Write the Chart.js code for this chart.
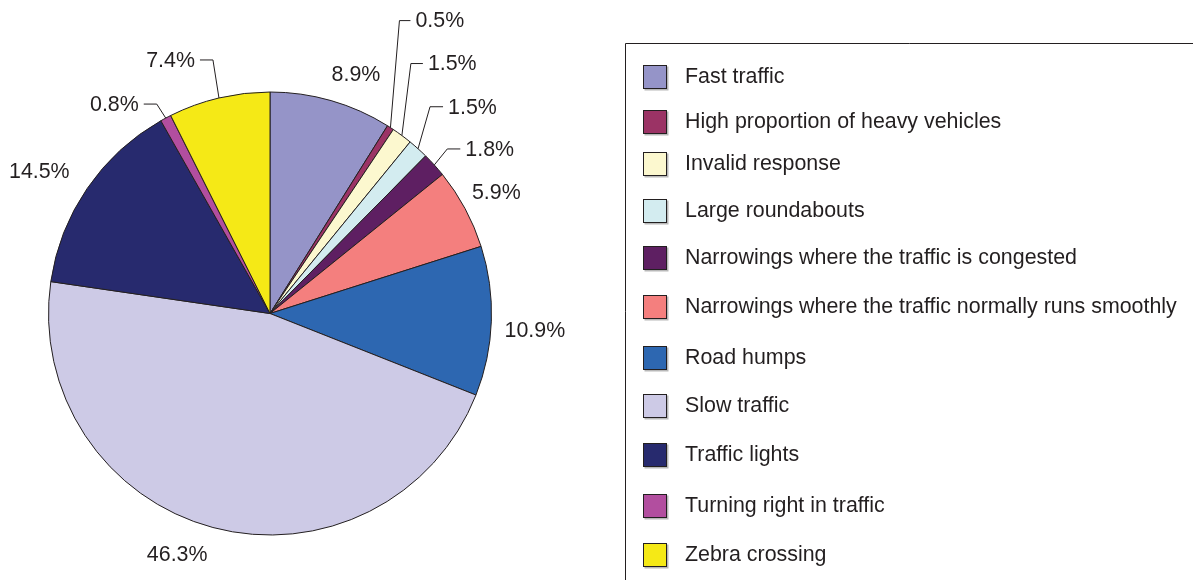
<!DOCTYPE html>
<html>
<head>
<meta charset="utf-8">
<script src="https://cdn.jsdelivr.net/npm/chart.js@4.4.1/dist/chart.umd.min.js"></script>
<style>
  html, body { margin: 0; padding: 0; background: #ffffff; }
  #wrap { position: relative; width: 1193px; height: 580px; overflow: hidden; }
</style>
</head>
<body>
<div id="wrap"><canvas id="c" width="1193" height="580"></canvas></div>
<script>
// ---- data ----
const categories = [
  "Fast traffic",
  "High proportion of heavy vehicles",
  "Invalid response",
  "Large roundabouts",
  "Narrowings where the traffic is congested",
  "Narrowings where the traffic normally runs smoothly",
  "Road humps",
  "Slow traffic",
  "Traffic lights",
  "Turning right in traffic",
  "Zebra crossing"
];
const shares = [8.9, 0.5, 1.5, 1.5, 1.8, 5.9, 10.9, 46.3, 14.5, 0.8, 7.4];
const colors = [
  "#9594c8", "#9b3365", "#fcf8cf", "#d3ecf0", "#5e1f62", "#f47f7e",
  "#2d67b1", "#cdcae6", "#272a6e", "#b24e9f", "#f5e916"
];

// ---- label placement (styling, not data) ----
// plain: shift of angle (deg) and distance beyond the rim
// leader: elbow offset from the rim point, then horizontal tail
const labelPlacement = [
  { da: 3.8, dr: 32 },
  { leader: [9, -107, 11] },
  { leader: [9, -72, 12] },
  { leader: [12, -42, 13] },
  { leader: [13, -16, 13] },
  { da: 0.2, dr: 35 },
  { da: 1.9, dr: 44 },
  { da: 6.1, dr: 37 },
  { da: -2.9, dr: 49 },
  { leader: [-9, -14, -13] },
  { leader: [-6, -38, -13] }
];
const legendRowsY = [76, 121.5, 163, 210.5, 257.5, 306.5, 357.5, 405.5, 454.5, 505.5, 554];

const FONT = '21.4px "Liberation Sans", Arial, Helvetica, sans-serif';
const TEXT = '#231f20';

const labelPlugin = {
  id: 'pctLabels',
  afterDatasetsDraw(chart) {
    const ctx = chart.ctx;
    const meta = chart.getDatasetMeta(0);
    ctx.save();
    ctx.font = FONT;
    ctx.fillStyle = TEXT;
    ctx.strokeStyle = '#231f20';
    ctx.lineWidth = 1;
    meta.data.forEach((arc, i) => {
      const p = arc.getProps(['x', 'y', 'startAngle', 'endAngle', 'outerRadius'], true);
      const mid = (p.startAngle + p.endAngle) / 2;
      const txt = shares[i].toFixed(1) + '%';
      const pl = labelPlacement[i];
      if (pl.leader) {
        const [ex, ey, hx] = pl.leader;
        const sx = p.x + p.outerRadius * Math.cos(mid);
        const sy = p.y + p.outerRadius * Math.sin(mid);
        const bx = sx + ex, by = sy + ey;
        const tx = bx + hx;
        ctx.beginPath();
        ctx.moveTo(sx, sy);
        ctx.lineTo(bx, by);
        ctx.lineTo(tx, by);
        ctx.stroke();
        ctx.textBaseline = 'middle';
        ctx.textAlign = hx > 0 ? 'left' : 'right';
        ctx.fillText(txt, tx + (hx > 0 ? 5 : -5), by + 1);
      } else {
        const a = mid + pl.da * Math.PI / 180;
        const r = p.outerRadius + pl.dr;
        ctx.textBaseline = 'middle';
        ctx.textAlign = 'center';
        ctx.fillText(txt, p.x + r * Math.cos(a), p.y + r * Math.sin(a));
      }
    });
    ctx.restore();
  }
};

const legendPlugin = {
  id: 'boxLegend',
  afterDraw(chart) {
    const ctx = chart.ctx;
    ctx.save();
    // frame
    ctx.strokeStyle = '#231f20';
    ctx.lineWidth = 1;
    ctx.beginPath();
    ctx.moveTo(625.5, 580);
    ctx.lineTo(625.5, 43.5);
    ctx.lineTo(1193, 43.5);
    ctx.stroke();
    ctx.font = FONT;
    ctx.textAlign = 'left';
    ctx.textBaseline = 'middle';
    const bg = chart.data.datasets[0].backgroundColor;
    chart.data.labels.forEach((lab, i) => {
      const cy = legendRowsY[i];
      const x0 = 643.5, y0 = Math.round(cy - 11.5) + 0.5, s = 23;
      ctx.fillStyle = '#b8b8b8';
      ctx.fillRect(x0 + 1, y0 + 1, s + 1, s + 1);
      ctx.fillStyle = bg[i];
      ctx.fillRect(x0, y0, s, s);
      ctx.strokeStyle = '#231f20';
      ctx.strokeRect(x0, y0, s, s);
      ctx.fillStyle = TEXT;
      ctx.fillText(lab, 685, cy + 1);
    });
    ctx.restore();
  }
};

new Chart(document.getElementById('c'), {
  type: 'pie',
  data: {
    labels: categories,
    datasets: [{
      data: shares,
      backgroundColor: colors,
      borderColor: '#231f20',
      borderWidth: 1,
      hoverOffset: 0
    }]
  },
  options: {
    responsive: false,
    animation: false,
    devicePixelRatio: 1,
    events: [],
    layout: { padding: { left: 48, top: 91, right: 701, bottom: 44 } },
    plugins: {
      legend: { display: false },
      tooltip: { enabled: false },
      title: { display: false }
    }
  },
  plugins: [labelPlugin, legendPlugin]
});
</script>
</body>
</html>
